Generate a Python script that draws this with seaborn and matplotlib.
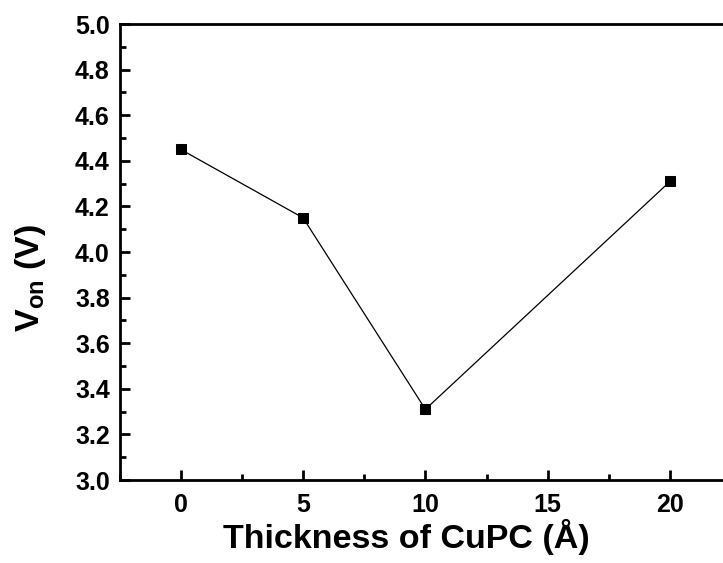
import matplotlib
matplotlib.use("Agg")
import matplotlib.pyplot as plt
from matplotlib.ticker import MultipleLocator
import seaborn as sns
import pandas as pd

thickness = [0, 5, 10, 20]
v_on = [4.45, 4.15, 3.31, 4.31]
x_ticks = [0, 5, 10, 15, 20]

sns.set_theme(style="white")
plt.rcParams["font.family"] = ["Liberation Sans", "DejaVu Sans"]
plt.rcParams["font.weight"] = "bold"
plt.rcParams["text.color"] = "black"
plt.rcParams["axes.labelcolor"] = "black"
plt.rcParams["mathtext.fontset"] = "custom"
plt.rcParams["mathtext.rm"] = "Liberation Sans"
plt.rcParams["mathtext.bf"] = "Liberation Sans:bold"

df = pd.DataFrame({"thickness": thickness, "v_on": v_on})

fig = plt.figure(figsize=(7.23, 5.63), dpi=100)
# axes box runs past the right edge of the canvas
ax = fig.add_axes([119.5 / 723, 1 - 480 / 563, 673 / 723, 456 / 563])

sns.lineplot(data=df, x="thickness", y="v_on", ax=ax, color="black",
             linewidth=0.9, marker="s", markersize=6.5,
             markeredgecolor="black", markerfacecolor="black")

ax.set_xlim(-2.5, 25)
ax.set_ylim(3.0, 5.0)
ax.set_xticks(x_ticks)
ax.xaxis.set_minor_locator(MultipleLocator(2.5))
ax.yaxis.set_major_locator(MultipleLocator(0.2))
ax.yaxis.set_minor_locator(MultipleLocator(0.1))
ax.set_yticklabels([f"{t:.1f}" for t in ax.get_yticks()])

for side in ["left", "bottom", "top", "right"]:
    ax.spines[side].set_linewidth(2.0)
    ax.spines[side].set_color("black")

ax.tick_params(which="major", direction="in", length=7, width=2,
               labelsize=18, colors="black")
ax.tick_params(which="minor", direction="in", length=4, width=2,
               colors="black")
ax.tick_params(axis="x", which="major", pad=9)
ax.tick_params(axis="y", which="major", pad=7)
ax.tick_params(left=True, bottom=True, which="both")
for lbl in ax.get_xticklabels() + ax.get_yticklabels():
    lbl.set_fontweight("bold")

ax.set_xlabel("Thickness of CuPC (Å)", fontsize=24.5, fontweight="bold",
              color="black")
ax.set_ylabel(r"V$_{\mathbf{on}}$ (V)", fontsize=24.5, fontweight="bold",
              color="black")
ax.xaxis.label.set_va("baseline")
ax.xaxis.set_label_coords((406 - 119.5) / 673, (480 - 548) / 456)
ax.yaxis.label.set_va("center")
ax.yaxis.set_label_coords((31 - 119.5) / 673, (480 - 278) / 456)

fig.savefig("out.png", dpi=100)
